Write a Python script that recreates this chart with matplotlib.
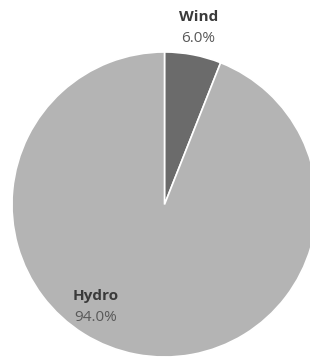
import matplotlib.pyplot as plt
import numpy as np

sources = ['Wind', 'Hydro']
shares = [6.0, 94.0]
colors = ['#6b6b6b', '#b4b4b4']

plt.rcParams['font.family'] = ['Open Sans', 'DejaVu Sans']

fig = plt.figure(figsize=(3.1, 3.58), dpi=100)
# pie is cropped on the right edge, so the axes run past the figure
ax = fig.add_axes([12 / 310, 1 / 358, 305 / 310, 305 / 358])

wedges, _ = ax.pie(shares, colors=colors, startangle=90, counterclock=False,
                   radius=1, wedgeprops=dict(edgecolor='white', linewidth=1.2))
ax.set_xlim(-1, 1)
ax.set_ylim(-1, 1)
ax.axis('off')

# label spots (distance from centre, angle in degrees)
label_pos = {'Wind': (1.18, None), 'Hydro': (0.81, -124)}

for w, name, val in zip(wedges, sources, shares):
    r, ang = label_pos[name]
    if ang is None:
        ang = (w.theta1 + w.theta2) / 2
    x = r * np.cos(np.radians(ang))
    y = r * np.sin(np.radians(ang))
    ax.text(x, y + 0.072, name, ha='center', va='center', fontsize=11,
            fontweight='bold', color='#3a3a3a', clip_on=False)
    ax.text(x, y - 0.072, f'{val:.1f}%', ha='center', va='center', fontsize=11,
            color='#595959', clip_on=False)

fig.savefig('out.png', dpi=100)
